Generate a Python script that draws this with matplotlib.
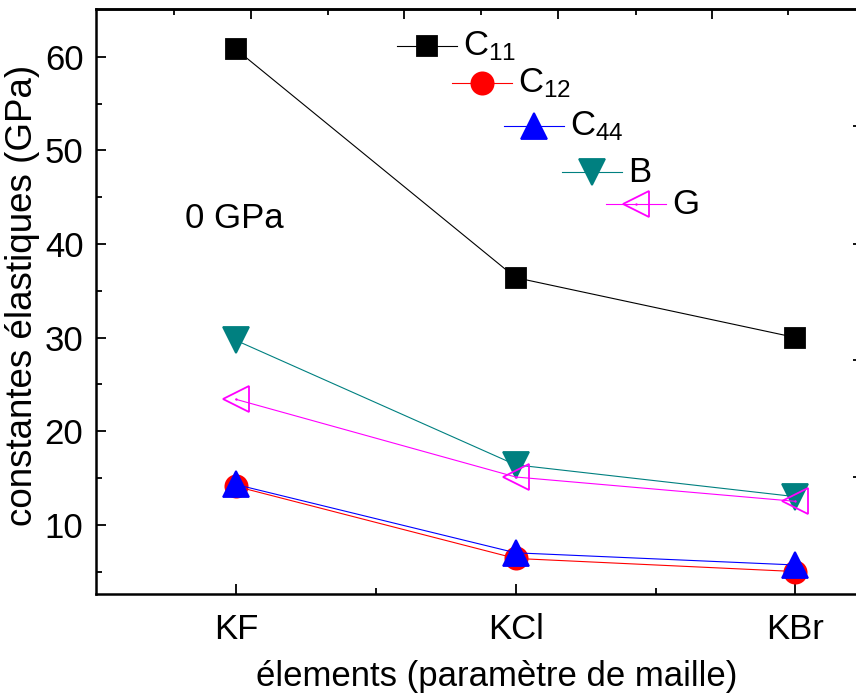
import matplotlib
matplotlib.use("Agg")
import matplotlib.pyplot as plt

plt.rcParams['font.family'] = ['Liberation Sans', 'DejaVu Sans']
plt.rcParams['mathtext.fontset'] = 'custom'
plt.rcParams['mathtext.rm'] = 'Liberation Sans'
plt.rcParams['mathtext.it'] = 'Liberation Sans'

# composés et constantes élastiques (GPa) à 0 GPa
elements = ['KF', 'KCl', 'KBr']
x = [1, 2, 3]
C11 = [60.8, 36.4, 30.0]
C12 = [14.1, 6.4, 5.0]
C44 = [14.3, 7.0, 5.7]
B = [29.7, 16.4, 13.0]
G = [23.4, 15.1, 12.5]

series = [
    (C11, 'C$_{11}$', 'black', 's', 14, 'black'),
    (C12, 'C$_{12}$', 'red', 'o', 16, 'red'),
    (C44, 'C$_{44}$', 'blue', '^', 19, 'blue'),
    (B, 'B', '#008080', 'v', 19, '#008080'),
    (G, 'G', '#FF00FF', '<', 19, 'none'),
]

fig = plt.figure(figsize=(8.56, 6.98), dpi=100)
ax = fig.add_axes([96 / 856, 104 / 698, 761 / 856, 585 / 698])

for vals, lab, col, mk, ms, fc in series:
    ax.plot(x, vals, color=col, lw=0.8, marker=mk, ms=ms,
            mfc=fc, mec=col, mew=1.3)
    if mk == '<':
        ax.plot(x, vals, ls='none', marker='.', ms=1.5, color=col)

ax.set_xlim(0.5, 3.22)
ax.set_ylim(2.6, 65.1)
ax.set_xticks(x)
ax.set_xticklabels(elements)
ax.set_xticks([1.5, 2.5], minor=True)
ax.set_yticks([10, 20, 30, 40, 50, 60])
ax.set_yticks([5, 15, 25, 35, 45, 55], minor=True)
ax.tick_params(which='both', direction='in', width=1.3, labelsize=25,
               top=False, right=False)
ax.tick_params(which='major', length=7.5)
ax.tick_params(axis='x', which='major', pad=14)
ax.tick_params(axis='y', which='major', pad=9)
ax.tick_params(which='minor', length=4)
for sp in ax.spines.values():
    sp.set_linewidth(1.8)

# axes du haut et de droite (graduations seulement)
top = ax.secondary_xaxis('top')
top.set_xticks([1.054, 1.6, 2.15, 2.7])
top.set_xticks([0.779, 1.329, 1.875, 2.429, 2.975], minor=True)
top.tick_params(which='both', direction='in', width=1.3, labeltop=False)
top.tick_params(which='major', length=7.5)
top.tick_params(which='minor', length=4)
top.spines['top'].set_linewidth(1.8)

right = ax.secondary_yaxis('right')
right.set_yticks([52.6, 40.0, 27.6, 15.1])
right.tick_params(direction='in', width=1.3, length=3, labelright=False)

ax.set_xlabel('élements (paramètre de maille)', fontsize=25, labelpad=10)
ax.xaxis.label.set_x(0.526)
ax.set_ylabel('constantes élastiques (GPa)', fontsize=26.5)
ax.yaxis.set_label_coords(-0.074, 0.51)

ax.text((185 - 96) / 761, (594 - 218) / 585, '0 GPa', fontsize=25,
        transform=ax.transAxes, va='center', ha='left')

# légende en escalier
leg_pos = [(427, 46), (482, 83), (534, 126), (592, 172), (636, 204)]
for (vals, lab, col, mk, ms, fc), (px, py) in zip(series, leg_pos):
    cx = (px - 96) / 761
    cy = (594 - py) / 585
    half = 30 / 761
    ax.plot([cx - half, cx + half], [cy, cy], color=col, lw=0.8,
            transform=ax.transAxes, clip_on=False)
    ax.plot([cx], [cy], marker=mk, ms=ms, mfc=fc, mec=col, mew=1.3,
            color=col, transform=ax.transAxes, clip_on=False)
    if mk == '<':
        ax.plot([cx], [cy], marker='.', ms=1.5, color=col,
                transform=ax.transAxes, clip_on=False)
    ax.text(cx + 36 / 761, cy, lab, fontsize=25, transform=ax.transAxes,
            va='center', ha='left')

fig.savefig('out.png', dpi=100)
